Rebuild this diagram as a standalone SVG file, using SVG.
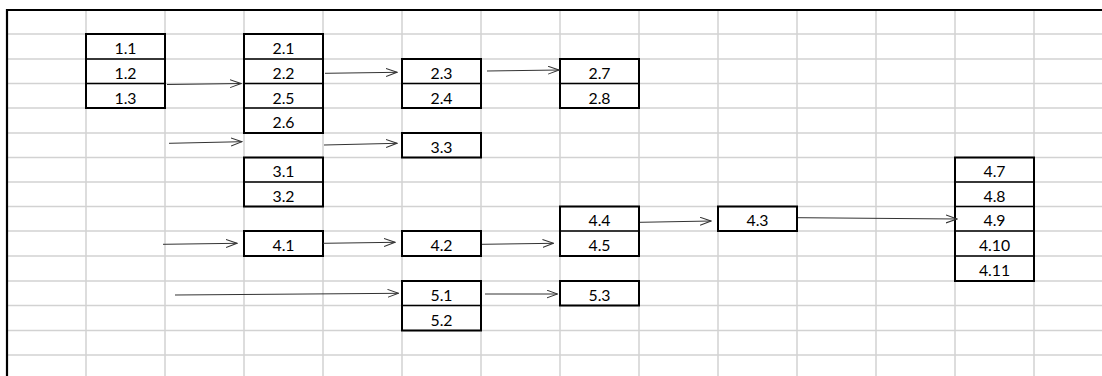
<svg xmlns="http://www.w3.org/2000/svg" width="1102" height="376" viewBox="0 0 1102 376">
<style>
.g{stroke:#d2d2d2;stroke-width:1.5;fill:none}
.b{fill:none;stroke:#000;stroke-width:2}
.d{stroke:#000;stroke-width:1.5}
.t{font-family:Lato,"Open Sans",sans-serif;font-size:15.8px;fill:#000;text-anchor:middle}
.a{stroke:#333;stroke-width:1;fill:none;marker-end:url(#ah)}
</style>
<defs>
<marker id="ah" markerUnits="userSpaceOnUse" markerWidth="12" markerHeight="10" refX="11" refY="4.5" orient="auto" viewBox="0 0 12 10">
<path d="M0,0.5 L11,4.5 L0,8.5" fill="none" stroke="#333" stroke-width="1"/>
</marker>
</defs>
<rect width="1102" height="376" fill="#fff"/>
<g id="grid">
<path class="g" d="M7,34H1102M7,59H1102M7,83.5H1102M7,108H1102M7,133H1102M7,157.5H1102M7,182H1102M7,206.5H1102M7,231H1102M7,256H1102M7,281H1102M7,305.5H1102M7,330.5H1102M7,355H1102"/>
<path class="g" d="M86,10V376M165,10V376M244,10V376M323,10V376M402,10V376M481,10V376M560,10V376M639,10V376M718,10V376M797,10V376M876,10V376M955,10V376M1034,10V376"/>
<path d="M7,376V10H1102" fill="none" stroke="#000" stroke-width="2.2"/>
</g>
<g id="n1">
<rect class="b" x="86" y="34" width="79" height="74"/>
<path class="d" d="M86,59H165M86,83.5H165"/>
<text class="t" x="125.5" y="54.2">1.1</text>
<text class="t" x="125.5" y="78.7">1.2</text>
<text class="t" x="125.5" y="103.5">1.3</text>
</g>
<g id="n2">
<rect class="b" x="244" y="34" width="79" height="99"/>
<path class="d" d="M244,59H323M244,83.5H323M244,108H323"/>
<text class="t" x="283.5" y="54.2">2.1</text>
<text class="t" x="283.5" y="78.7">2.2</text>
<text class="t" x="283.5" y="103.5">2.5</text>
<text class="t" x="283.5" y="128.2">2.6</text>
</g>
<g id="n23">
<rect class="b" x="402" y="59" width="79" height="49"/>
<path class="d" d="M402,83.5H481"/>
<text class="t" x="441.5" y="78.7">2.3</text>
<text class="t" x="441.5" y="103.5">2.4</text>
</g>
<g id="n27">
<rect class="b" x="560" y="59" width="79" height="49"/>
<path class="d" d="M560,83.5H639"/>
<text class="t" x="599.5" y="78.7">2.7</text>
<text class="t" x="599.5" y="103.5">2.8</text>
</g>
<g id="n33">
<rect class="b" x="402" y="133" width="79" height="24.5"/>
<text class="t" x="441.5" y="152.7">3.3</text>
</g>
<g id="n31">
<rect class="b" x="244" y="157.5" width="79" height="49"/>
<path class="d" d="M244,182H323"/>
<text class="t" x="283.5" y="177.2">3.1</text>
<text class="t" x="283.5" y="202">3.2</text>
</g>
<g id="n44">
<rect class="b" x="560" y="206.5" width="79" height="49.5"/>
<path class="d" d="M560,231H639"/>
<text class="t" x="599.5" y="226.2">4.4</text>
<text class="t" x="599.5" y="251.2">4.5</text>
</g>
<g id="n41">
<rect class="b" x="244" y="231" width="79" height="25"/>
<text class="t" x="283.5" y="251.2">4.1</text>
</g>
<g id="n42">
<rect class="b" x="402" y="231" width="79" height="25"/>
<text class="t" x="441.5" y="251.2">4.2</text>
</g>
<g id="n43">
<rect class="b" x="718" y="206.5" width="79" height="24.5"/>
<text class="t" x="757.5" y="226.2">4.3</text>
</g>
<g id="n47">
<rect class="b" x="955" y="157.5" width="79" height="123.5"/>
<path class="d" d="M955,182H1034M955,206.5H1034M955,231H1034M955,256H1034"/>
<text class="t" x="994.5" y="177.2">4.7</text>
<text class="t" x="994.5" y="202">4.8</text>
<text class="t" x="994.5" y="226.2">4.9</text>
<text class="t" x="994.5" y="251.2">4.10</text>
<text class="t" x="994.5" y="276.2">4.11</text>
</g>
<g id="n51">
<rect class="b" x="402" y="281" width="79" height="49.5"/>
<path class="d" d="M402,305.5H481"/>
<text class="t" x="441.5" y="300.7">5.1</text>
<text class="t" x="441.5" y="325.7">5.2</text>
</g>
<g id="n53">
<rect class="b" x="560" y="281" width="79" height="24.5"/>
<text class="t" x="599.5" y="300.7">5.3</text>
</g>
<g id="connectors">
<line class="a" x1="167" y1="84.5" x2="241" y2="83.5"/>
<line class="a" x1="325" y1="73.3" x2="397" y2="72.3"/>
<line class="a" x1="487" y1="71" x2="559" y2="70"/>
<line class="a" x1="169" y1="143.3" x2="242" y2="141.7"/>
<line class="a" x1="324" y1="145" x2="397" y2="143.3"/>
<line class="a" x1="163" y1="244.3" x2="237" y2="243.3"/>
<line class="a" x1="323" y1="243.3" x2="395" y2="242.3"/>
<line class="a" x1="482" y1="244.3" x2="553.5" y2="243.3"/>
<line class="a" x1="175" y1="295" x2="398.5" y2="293.3"/>
<line class="a" x1="485" y1="294" x2="557.5" y2="294"/>
<line class="a" x1="640" y1="222.3" x2="711" y2="221"/>
<line class="a" x1="798" y1="217.7" x2="957" y2="219"/>
</g>
</svg>
